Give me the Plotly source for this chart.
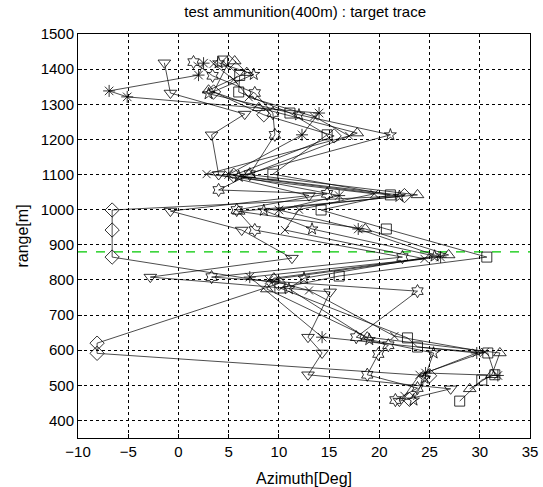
import plotly.graph_objects as go

# ---- data (azimuth in deg, range in m) ----
sq_x = [4.4, 6.1, 6.0, 11.1, 14.8, 9.4, 21.1, 14.2, 20.7, 30.7, 16.0, 10.1, 22.8, 23.8, 30.8, 31.5, 30.2, 28.0]
sq_y = [1423, 1382, 1335, 1275, 1213, 1101, 1042, 999, 945, 865, 811, 777, 635, 609, 592, 530, 515, 455]

tu_x = [5.6, 6.8, 3.0, 8.0, 17.8, 7.0, 23.8, 6.0, 18.6, 26.9, 9.5, 8.8, 18.8, 32.0, 31.2, 29.0]
tu_y = [1423, 1390, 1340, 1290, 1218, 1100, 1042, 995, 945, 871, 805, 774, 637, 592, 530, 490]

td_x = [-1.4, -0.8, 6.6, 3.3, 4.0, 13.0, -0.8, 6.3, 11.3, -2.8, 15.1, 12.9, 14.3, 12.9, 27.1, 22.0]
td_y = [1418, 1332, 1272, 1213, 1100, 1040, 996, 942, 862, 808, 766, 637, 592, 530, 490, 455]

di_x = [5.0, 3.5, 8.5, 15.5, 5.5, 22.5, -6.6, -6.6, -6.6, 10.0, -8.1, -8.1, 25.0, 23.0]
di_y = [1420, 1335, 1270, 1210, 1098, 1040, 999, 942, 865, 790, 620, 591, 527, 460]

st_x = [4.0, 7.5, 3.0, 12.0, 21.1, 6.0, 22.0, 8.5, 13.3, 25.5, 12.5, 11.0, 19.0, 25.4, 24.5, 23.4]
st_y = [1418, 1385, 1330, 1270, 1213, 1095, 1038, 998, 945, 868, 805, 775, 630, 592, 520, 458]

as_x = [2.5, 2.0, -6.9, -5.1, 14.0, 12.3, 5.0, 16.0, 10.0, 17.9, 26.1, 7.1, 14.3, 29.7, 24.6, 31.8]
as_y = [1417, 1383, 1338, 1321, 1275, 1213, 1100, 1040, 999, 945, 865, 808, 637, 592, 535, 528]

xm_x = [3.5, 5.5, 7.0, 13.5, 17.0, 2.8, 19.5, 12.0, 10.6, 24.5, 9.0, 13.0, 21.5, 30.5, 24.0, 22.5]
xm_y = [1415, 1370, 1320, 1265, 1210, 1101, 1045, 1000, 942, 860, 800, 770, 640, 595, 530, 470]

hx_x = [1.5, 3.4, 7.6, 9.4, 9.6, 7.1, 4.0, 14.8, 5.8, 7.6, 22.3, 3.3, 23.8, 17.7, 20.9, 19.9, 18.8, 23.8, 21.6]
hx_y = [1420, 1381, 1332, 1275, 1213, 1101, 1056, 1045, 999, 942, 865, 808, 768, 637, 614, 589, 530, 492, 458]

ref_x = [-10, 35]
ref_y = [880, 880]

x_ticks = [-10, -5, 0, 5, 10, 15, 20, 25, 30, 35]
y_ticks = [400, 500, 600, 700, 800, 900, 1000, 1100, 1200, 1300, 1400, 1500]

series = [
    (sq_x, sq_y, "square-open", 10),
    (tu_x, tu_y, "triangle-up-open", 11),
    (td_x, td_y, "triangle-down-open", 11),
    (di_x, di_y, "diamond-open", 11),
    (st_x, st_y, "star-open", 9),
    (as_x, as_y, "asterisk-open", 10),
    (xm_x, xm_y, "x-thin-open", 8),
    (hx_x, hx_y, "hexagram-open", 10),
]

fig = go.Figure()
fig.add_trace(go.Scatter(x=ref_x, y=ref_y, mode="lines",
                         line=dict(color="#00c800", width=1.2, dash="dash"),
                         showlegend=False, hoverinfo="skip"))
for xs, ys, sym, sz in series:
    fig.add_trace(go.Scatter(
        x=xs, y=ys, mode="lines+markers",
        line=dict(color="black", width=0.7),
        marker=dict(symbol=sym, size=sz, color="black",
                    line=dict(color="black", width=0.8)),
        showlegend=False))

font = "Liberation Sans, Arial, Helvetica, sans-serif"
axis_common = dict(
    showline=True, linecolor="black", linewidth=1, mirror=True,
    showgrid=True, gridcolor="black", gridwidth=1, griddash="dot",
    ticks="inside", ticklen=4, tickcolor="black", zeroline=False,
    automargin=False,
    tickfont=dict(family=font, size=15, color="black"),
)

fig.update_layout(
    width=543, height=487,
    margin=dict(l=78, r=13, t=34, b=49),
    paper_bgcolor="white", plot_bgcolor="white",
    title=dict(text="test ammunition(400m) : target trace",
               x=0.562, xanchor="center", y=0.975, yanchor="middle",
               font=dict(family=font, size=15, color="black")),
    xaxis=dict(range=[-10, 35], tickvals=x_ticks,
               title=dict(text="Azimuth[Deg]", standoff=15,
                          font=dict(family=font, size=16, color="black")),
               **axis_common),
    yaxis=dict(range=[350, 1500], tickvals=y_ticks,
               title=dict(text="range[m]", standoff=8,
                          font=dict(family=font, size=16, color="black")),
               **axis_common),
)

fig.write_html("out.html")
